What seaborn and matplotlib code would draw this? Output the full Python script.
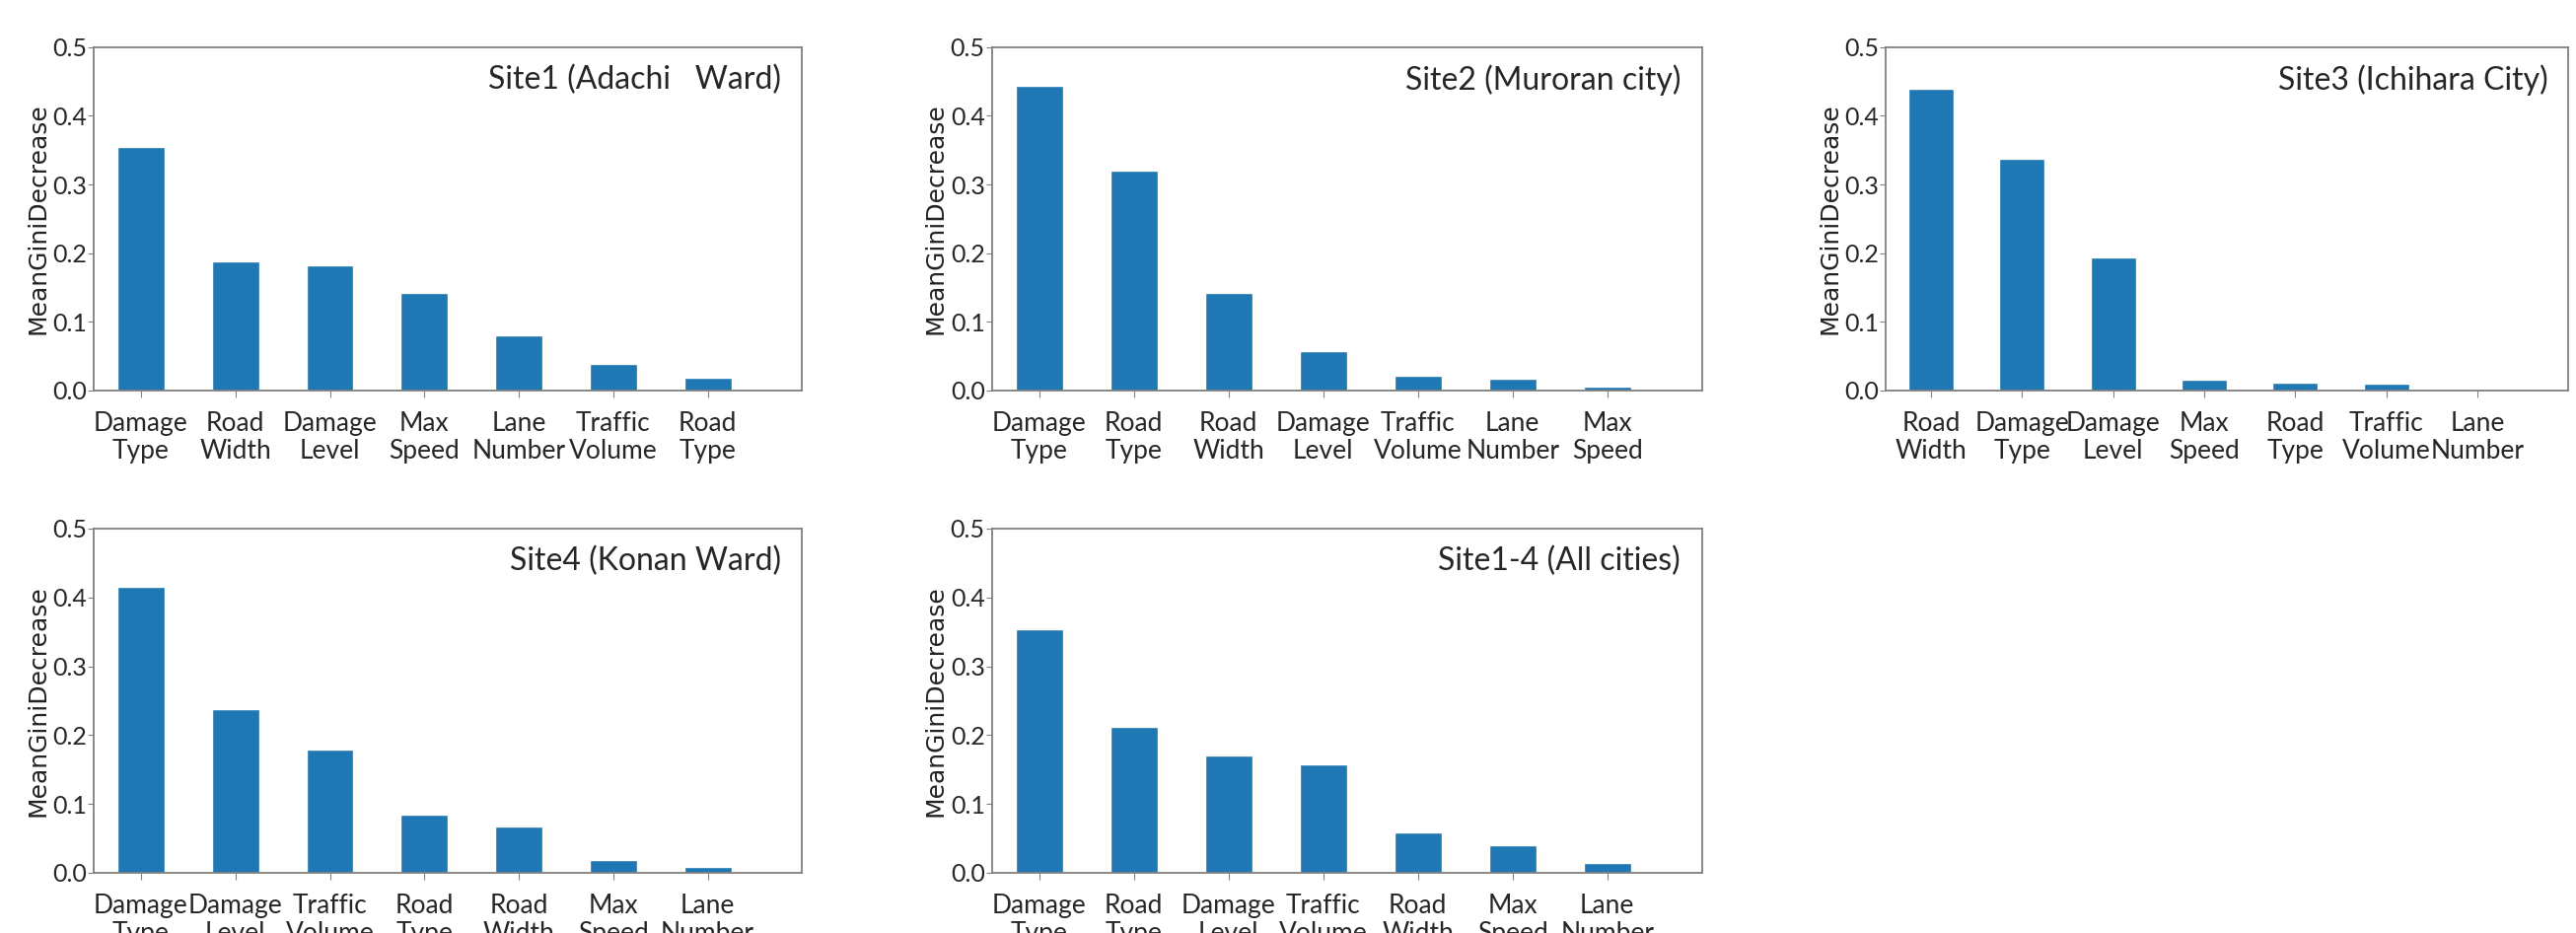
import numpy as np
import pandas as pd
import seaborn as sns
import matplotlib.pyplot as plt

sns.set_style('white')
plt.rcParams['font.family'] = ['DejaVu Sans']

# feature importances per site
site1_labels = ['Damage\nType', 'Road\nWidth', 'Damage\nLevel', 'Max\nSpeed', 'Lane\nNumber', 'Traffic\nVolume', 'Road\nType']
site1_values = [0.355, 0.188, 0.183, 0.142, 0.081, 0.039, 0.019]

site2_labels = ['Damage\nType', 'Road\nType', 'Road\nWidth', 'Damage\nLevel', 'Traffic\nVolume', 'Lane\nNumber', 'Max\nSpeed']
site2_values = [0.444, 0.320, 0.142, 0.058, 0.021, 0.017, 0.006]

site3_labels = ['Road\nWidth', 'Damage\nType', 'Damage\nLevel', 'Max\nSpeed', 'Road\nType', 'Traffic\nVolume', 'Lane\nNumber']
site3_values = [0.440, 0.337, 0.194, 0.016, 0.012, 0.010, 0.0005]

site4_labels = ['Damage\nType', 'Damage\nLevel', 'Traffic\nVolume', 'Road\nType', 'Road\nWidth', 'Max\nSpeed', 'Lane\nNumber']
site4_values = [0.416, 0.238, 0.179, 0.085, 0.068, 0.018, 0.008]

all_labels = ['Damage\nType', 'Road\nType', 'Damage\nLevel', 'Traffic\nVolume', 'Road\nWidth', 'Max\nSpeed', 'Lane\nNumber']
all_values = [0.354, 0.212, 0.171, 0.158, 0.058, 0.040, 0.015]

titles = ['Site1 (Adachi   Ward)', 'Site2 (Muroran city)', 'Site3 (Ichihara City)',
          'Site4 (Konan Ward)', 'Site1-4 (All cities)']
panels = [(site1_labels, site1_values), (site2_labels, site2_values), (site3_labels, site3_values),
          (site4_labels, site4_values), (all_labels, all_values)]

# axes boxes in figure fractions
boxes = [
    [0.0364, 0.5814, 0.275, 0.368],
    [0.385, 0.5814, 0.2757, 0.368],
    [0.732, 0.5814, 0.265, 0.368],
    [0.0364, 0.0645, 0.275, 0.369],
    [0.385, 0.0645, 0.2757, 0.369],
]

narrow = ['Lato', 'DejaVu Sans']

fig = plt.figure(figsize=(26.12, 9.46), dpi=100)
for box, (labels, values), title in zip(boxes, panels, titles):
    ax = fig.add_axes(box)
    df = pd.DataFrame({'feature': labels, 'importance': values})
    sns.barplot(data=df, x='feature', y='importance', ax=ax, color='#1f77b4',
                saturation=1, width=0.5)
    ax.set_xlim(-0.5, 7.0)
    ax.set_ylim(0, 0.5)
    ax.set_yticks([0.0, 0.1, 0.2, 0.3, 0.4, 0.5])
    ax.set_yticklabels(['0.0', '0.1', '0.2', '0.3', '0.4', '0.5'], family=narrow, fontsize=18)
    ax.set_xticks(range(len(labels)))
    ax.set_xticklabels(labels, family=narrow, fontsize=19, linespacing=1.15)
    ax.tick_params(axis='x', pad=10, length=5, color='#808080', bottom=True)
    ax.tick_params(axis='y', pad=1, length=4, color='#808080', left=True)
    ax.set_xlabel('')
    ax.set_ylabel('MeanGiniDecrease', fontsize=18, color='#222222', labelpad=2)
    for s in ax.spines.values():
        s.set_visible(True)
        s.set_color('#808080')
        s.set_linewidth(1.3)
    ax.text(0.97, 0.95, title, transform=ax.transAxes, ha='right', va='top',
            family=narrow, fontsize=23)

fig.savefig('out.png', dpi=100)
